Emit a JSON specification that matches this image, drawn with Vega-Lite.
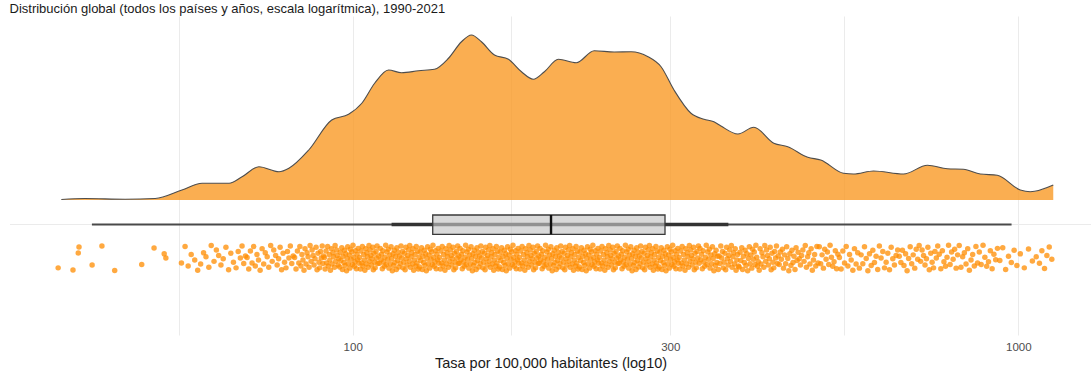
{
"$schema":"https://vega.github.io/schema/vega-lite/v6.json",
"width":1081,"height":319,
"autosize":{"type":"none"},
"padding":{"left":10,"top":16,"right":0,"bottom":39},
"background":"white",
"title":{"text":"Distribución global (todos los países y años, escala logarítmica), 1990-2021","anchor":"start","fontSize":13,"font":"Liberation Sans","fontWeight":"normal","color":"#1a1a1a","offset":-10,"baseline":"alphabetic"},
"config":{"view":{"stroke":null},"font":"Liberation Sans"},
"datasets":{
"dens":[{"r":36.5,"d":0.004},{"r":39.6,"d":0.012},{"r":45.5,"d":0.006},{"r":50.5,"d":0.012},{"r":55.4,"d":0.08},{"r":59.4,"d":0.134},{"r":65.2,"d":0.134},{"r":68.2,"d":0.186},{"r":72.3,"d":0.266},{"r":77.5,"d":0.226},{"r":80.2,"d":0.254},{"r":85.9,"d":0.40},{"r":93.0,"d":0.64},{"r":98.6,"d":0.686},{"r":103.2,"d":0.774},{"r":107.9,"d":0.934},{"r":113.2,"d":1.04},{"r":118.4,"d":1.018},{"r":125.6,"d":1.034},{"r":132.7,"d":1.046},{"r":139.3,"d":1.134},{"r":145.7,"d":1.266},{"r":150.8,"d":1.32},{"r":156.1,"d":1.266},{"r":163.3,"d":1.16},{"r":171.4,"d":1.126},{"r":179.3,"d":1.026},{"r":186.8,"d":0.966},{"r":194.1,"d":1.026},{"r":203.7,"d":1.126},{"r":216.7,"d":1.098},{"r":230.6,"d":1.194},{"r":247.1,"d":1.184},{"r":262.0,"d":1.186},{"r":277.8,"d":1.146},{"r":290.6,"d":1.066},{"r":303.9,"d":0.88},{"r":322.3,"d":0.694},{"r":337.1,"d":0.646},{"r":348.9,"d":0.626},{"r":357.5,"d":0.592},{"r":379.1,"d":0.528},{"r":400.6,"d":0.582},{"r":429.2,"d":0.454},{"r":450.5,"d":0.426},{"r":482.8,"d":0.342},{"r":504.9,"d":0.32},{"r":546.4,"d":0.214},{"r":565.6,"d":0.208},{"r":606.1,"d":0.232},{"r":672.3,"d":0.208},{"r":730.3,"d":0.278},{"r":782.5,"d":0.25},{"r":827.1,"d":0.246},{"r":877.0,"d":0.208},{"r":930.0,"d":0.198},{"r":1006.9,"d":0.08},{"r":1042.3,"d":0.066},{"r":1128.6,"d":0.12}],
"box":[{"lo":40.57,"t1":114.4,"q1":131.9,"med":198.6,"q3":294.6,"t2":366.8,"hi":977}],
"pts":[
{"r":36.1,"j":12},{"r":38.0,"j":4},{"r":38.7,"j":69},{"r":38.8,"j":92},{"r":40.6,"j":23},{"r":42.0,"j":96},{"r":43.9,"j":2},{"r":48.2,"j":25},{"r":50.3,"j":88},{"r":52.1,"j":66},{"r":52.4,"j":50},
{"r":55.3,"j":31},{"r":56.0,"j":94},{"r":56.6,"j":19},{"r":57.2,"j":63},{"r":57.9,"j":42},{"r":58.5,"j":3},
{"r":59.1,"j":27},{"r":59.7,"j":70},{"r":60.2,"j":55},{"r":60.8,"j":14},{"r":61.3,"j":98},{"r":61.9,"j":37},{"r":62.4,"j":81},{"r":62.9,"j":60},
{"r":63.4,"j":23},{"r":63.9,"j":47},{"r":64.5,"j":91},{"r":65.1,"j":5},{"r":65.6,"j":68},{"r":66.2,"j":34},{"r":66.8,"j":12},{"r":67.3,"j":75},
{"r":67.8,"j":50},{"r":68.2,"j":96},{"r":68.6,"j":29},{"r":69.0,"j":58},{"r":69.4,"j":52},{"r":69.8,"j":8},{"r":70.2,"j":77},{"r":70.6,"j":31},{"r":71.0,"j":94},{"r":71.4,"j":19},{"r":71.8,"j":63},{"r":72.2,"j":42},
{"r":72.6,"j":3},{"r":73.1,"j":86},{"r":73.5,"j":27},{"r":73.9,"j":70},{"r":74.4,"j":55},{"r":74.8,"j":14},{"r":75.3,"j":98},{"r":75.7,"j":37},{"r":76.1,"j":81},{"r":76.6,"j":60},{"r":77.0,"j":23},{"r":77.4,"j":47},
{"r":77.8,"j":91},{"r":78.2,"j":5},{"r":78.6,"j":68},{"r":79.0,"j":34},{"r":79.4,"j":12},{"r":79.8,"j":75},{"r":80.2,"j":50},{"r":80.6,"j":96},{"r":81.0,"j":29},{"r":81.4,"j":58},{"r":81.8,"j":52},{"r":82.2,"j":8},{"r":82.6,"j":77},{"r":83.0,"j":31},
{"r":83.3,"j":94},{"r":83.6,"j":19},{"r":83.9,"j":63},{"r":84.2,"j":42},{"r":84.5,"j":3},{"r":84.8,"j":86},{"r":85.1,"j":27},{"r":85.4,"j":70},{"r":85.7,"j":55},{"r":86.0,"j":14},{"r":86.3,"j":98},{"r":86.6,"j":37},{"r":86.9,"j":81},{"r":87.2,"j":60},{"r":87.5,"j":23},{"r":87.8,"j":47},{"r":88.1,"j":91},{"r":88.4,"j":5},{"r":88.7,"j":68},{"r":89.0,"j":34},
{"r":89.2,"j":12},{"r":89.5,"j":75},{"r":89.7,"j":50},{"r":90.0,"j":96},{"r":90.2,"j":29},{"r":90.4,"j":58},{"r":90.7,"j":52},{"r":90.9,"j":8},{"r":91.2,"j":77},{"r":91.4,"j":31},{"r":91.7,"j":94},{"r":91.9,"j":19},{"r":92.2,"j":63},{"r":92.4,"j":42},{"r":92.6,"j":3},{"r":92.9,"j":86},{"r":93.1,"j":27},{"r":93.4,"j":70},{"r":93.6,"j":55},{"r":93.9,"j":14},{"r":94.1,"j":98},{"r":94.3,"j":37},{"r":94.6,"j":81},{"r":94.8,"j":60},{"r":95.1,"j":23},{"r":95.3,"j":47},
{"r":95.6,"j":15},{"r":95.8,"j":72},{"r":96.0,"j":40},{"r":96.3,"j":89},{"r":96.5,"j":6},{"r":96.7,"j":57},{"r":97.0,"j":33},{"r":97.2,"j":80},{"r":97.4,"j":21},{"r":97.6,"j":66},{"r":97.9,"j":1},{"r":98.1,"j":48},{"r":98.3,"j":93},{"r":98.5,"j":28},{"r":98.8,"j":62},{"r":99.0,"j":11},{"r":99.2,"j":84},{"r":99.4,"j":45},{"r":99.7,"j":73},{"r":99.9,"j":25},{"r":100.1,"j":99},{"r":100.4,"j":53},{"r":100.6,"j":18},{"r":100.8,"j":36},{"r":101.0,"j":78},{"r":101.3,"j":9},{"r":101.5,"j":64},{"r":101.7,"j":43},{"r":101.9,"j":87},{"r":102.2,"j":30},
{"r":102.4,"j":52},{"r":102.7,"j":8},{"r":102.9,"j":77},{"r":103.2,"j":31},{"r":103.4,"j":94},{"r":103.6,"j":19},{"r":103.9,"j":63},{"r":104.1,"j":42},{"r":104.3,"j":3},{"r":104.6,"j":86},{"r":104.8,"j":27},{"r":105.0,"j":70},{"r":105.3,"j":55},{"r":105.5,"j":14},{"r":105.8,"j":98},{"r":106.0,"j":37},{"r":106.2,"j":81},{"r":106.5,"j":60},{"r":106.7,"j":23},{"r":106.9,"j":47},{"r":107.2,"j":91},{"r":107.4,"j":5},{"r":107.6,"j":68},{"r":107.9,"j":34},{"r":108.1,"j":12},{"r":108.4,"j":75},{"r":108.6,"j":50},{"r":108.8,"j":96},{"r":109.1,"j":29},{"r":109.4,"j":58},
{"r":109.7,"j":30},{"r":110.0,"j":87},{"r":110.3,"j":43},{"r":110.5,"j":64},{"r":110.8,"j":9},{"r":111.0,"j":78},{"r":111.3,"j":36},{"r":111.6,"j":18},{"r":111.8,"j":53},{"r":112.1,"j":99},{"r":112.3,"j":25},{"r":112.6,"j":73},{"r":112.9,"j":45},{"r":113.1,"j":84},{"r":113.4,"j":11},{"r":113.7,"j":62},{"r":113.9,"j":28},{"r":114.2,"j":93},{"r":114.4,"j":48},{"r":114.7,"j":1},{"r":115.0,"j":66},{"r":115.2,"j":21},{"r":115.5,"j":80},{"r":115.7,"j":33},{"r":116.0,"j":57},{"r":116.3,"j":6},{"r":116.5,"j":89},{"r":116.8,"j":40},{"r":117.0,"j":72},{"r":117.3,"j":15},
{"r":117.6,"j":58},{"r":117.9,"j":29},{"r":118.2,"j":96},{"r":118.5,"j":50},{"r":118.8,"j":75},{"r":119.0,"j":12},{"r":119.3,"j":34},{"r":119.6,"j":68},{"r":119.9,"j":5},{"r":120.2,"j":91},{"r":120.4,"j":47},{"r":120.7,"j":23},{"r":121.0,"j":60},{"r":121.3,"j":81},{"r":121.6,"j":37},{"r":121.8,"j":98},{"r":122.1,"j":14},{"r":122.4,"j":55},{"r":122.7,"j":70},{"r":123.0,"j":27},{"r":123.2,"j":86},{"r":123.5,"j":3},{"r":123.8,"j":42},{"r":124.1,"j":63},{"r":124.4,"j":19},{"r":124.6,"j":94},{"r":124.9,"j":31},{"r":125.2,"j":77},{"r":125.5,"j":8},{"r":125.8,"j":52},
{"r":126.0,"j":15},{"r":126.3,"j":72},{"r":126.6,"j":40},{"r":126.9,"j":89},{"r":127.2,"j":6},{"r":127.5,"j":57},{"r":127.8,"j":33},{"r":128.1,"j":80},{"r":128.4,"j":21},{"r":128.7,"j":66},{"r":129.0,"j":1},{"r":129.3,"j":48},{"r":129.6,"j":93},{"r":129.9,"j":28},{"r":130.2,"j":62},{"r":130.5,"j":11},{"r":130.8,"j":84},{"r":131.1,"j":45},{"r":131.4,"j":73},{"r":131.7,"j":25},{"r":132.0,"j":99},{"r":132.3,"j":53},{"r":132.6,"j":18},{"r":132.9,"j":36},{"r":133.2,"j":78},{"r":133.5,"j":9},{"r":133.8,"j":64},{"r":134.1,"j":43},{"r":134.4,"j":87},{"r":134.7,"j":30},
{"r":135.0,"j":52},{"r":135.4,"j":8},{"r":135.7,"j":77},{"r":136.0,"j":31},{"r":136.3,"j":94},{"r":136.7,"j":19},{"r":137.0,"j":63},{"r":137.3,"j":42},{"r":137.6,"j":3},{"r":138.0,"j":86},{"r":138.3,"j":27},{"r":138.6,"j":70},{"r":138.9,"j":55},{"r":139.3,"j":14},{"r":139.6,"j":98},{"r":139.9,"j":37},{"r":140.2,"j":81},{"r":140.6,"j":60},{"r":140.9,"j":23},{"r":141.2,"j":47},{"r":141.5,"j":91},{"r":141.9,"j":5},{"r":142.2,"j":68},{"r":142.5,"j":34},{"r":142.8,"j":12},{"r":143.2,"j":75},{"r":143.5,"j":50},{"r":143.8,"j":96},{"r":144.1,"j":29},{"r":144.4,"j":58},
{"r":144.7,"j":30},{"r":145.0,"j":87},{"r":145.4,"j":43},{"r":145.7,"j":64},{"r":146.1,"j":9},{"r":146.4,"j":78},{"r":146.8,"j":36},{"r":147.1,"j":18},{"r":147.5,"j":53},{"r":147.8,"j":99},{"r":148.1,"j":25},{"r":148.5,"j":73},{"r":148.8,"j":45},{"r":149.2,"j":84},{"r":149.5,"j":11},{"r":149.9,"j":62},{"r":150.2,"j":28},{"r":150.6,"j":93},{"r":150.9,"j":48},{"r":151.3,"j":1},{"r":151.6,"j":66},{"r":151.9,"j":21},{"r":152.3,"j":80},{"r":152.6,"j":33},{"r":153.0,"j":57},{"r":153.3,"j":6},{"r":153.7,"j":89},{"r":154.0,"j":40},{"r":154.4,"j":72},{"r":154.7,"j":15},
{"r":155.1,"j":58},{"r":155.5,"j":29},{"r":155.8,"j":96},{"r":156.2,"j":50},{"r":156.6,"j":75},{"r":156.9,"j":12},{"r":157.3,"j":34},{"r":157.7,"j":68},{"r":158.1,"j":5},{"r":158.4,"j":91},{"r":158.8,"j":47},{"r":159.2,"j":23},{"r":159.5,"j":60},{"r":159.9,"j":81},{"r":160.3,"j":37},{"r":160.7,"j":98},{"r":161.0,"j":14},{"r":161.4,"j":55},{"r":161.8,"j":70},{"r":162.1,"j":27},{"r":162.5,"j":86},{"r":162.9,"j":3},{"r":163.2,"j":42},{"r":163.6,"j":63},{"r":164.0,"j":19},{"r":164.4,"j":94},{"r":164.7,"j":31},{"r":165.1,"j":77},{"r":165.5,"j":8},{"r":165.8,"j":52},
{"r":166.2,"j":15},{"r":166.6,"j":72},{"r":167.0,"j":40},{"r":167.4,"j":89},{"r":167.8,"j":6},{"r":168.2,"j":57},{"r":168.6,"j":33},{"r":169.0,"j":80},{"r":169.4,"j":21},{"r":169.8,"j":66},{"r":170.1,"j":1},{"r":170.5,"j":48},{"r":170.9,"j":93},{"r":171.3,"j":28},{"r":171.7,"j":62},{"r":172.1,"j":11},{"r":172.5,"j":84},{"r":172.9,"j":45},{"r":173.3,"j":73},{"r":173.7,"j":25},{"r":174.1,"j":99},{"r":174.5,"j":53},{"r":174.9,"j":18},{"r":175.3,"j":36},{"r":175.7,"j":78},{"r":176.1,"j":9},{"r":176.4,"j":64},{"r":176.8,"j":43},{"r":177.2,"j":87},{"r":177.6,"j":30},
{"r":178.0,"j":52},{"r":178.4,"j":8},{"r":178.8,"j":77},{"r":179.3,"j":31},{"r":179.7,"j":94},{"r":180.1,"j":19},{"r":180.6,"j":63},{"r":181.0,"j":42},{"r":181.4,"j":3},{"r":181.8,"j":86},{"r":182.3,"j":27},{"r":182.7,"j":70},{"r":183.1,"j":55},{"r":183.6,"j":14},{"r":184.0,"j":98},{"r":184.4,"j":37},{"r":184.8,"j":81},{"r":185.3,"j":60},{"r":185.7,"j":23},{"r":186.1,"j":47},{"r":186.6,"j":91},{"r":187.0,"j":5},{"r":187.4,"j":68},{"r":187.8,"j":34},{"r":188.3,"j":12},{"r":188.7,"j":75},{"r":189.1,"j":50},{"r":189.6,"j":96},{"r":190.0,"j":29},{"r":190.4,"j":58},
{"r":190.7,"j":30},{"r":191.2,"j":87},{"r":191.6,"j":43},{"r":192.1,"j":64},{"r":192.6,"j":9},{"r":193.0,"j":78},{"r":193.5,"j":36},{"r":193.9,"j":18},{"r":194.4,"j":53},{"r":194.9,"j":99},{"r":195.3,"j":25},{"r":195.8,"j":73},{"r":196.2,"j":45},{"r":196.7,"j":84},{"r":197.1,"j":11},{"r":197.6,"j":62},{"r":198.1,"j":28},{"r":198.5,"j":93},{"r":199.0,"j":48},{"r":199.4,"j":1},{"r":199.9,"j":66},{"r":200.4,"j":21},{"r":200.8,"j":80},{"r":201.3,"j":33},{"r":201.7,"j":57},{"r":202.2,"j":6},{"r":202.6,"j":89},{"r":203.1,"j":40},{"r":203.6,"j":72},{"r":204.0,"j":15},
{"r":204.4,"j":58},{"r":204.9,"j":29},{"r":205.4,"j":96},{"r":205.9,"j":50},{"r":206.4,"j":75},{"r":206.9,"j":12},{"r":207.4,"j":34},{"r":207.8,"j":68},{"r":208.3,"j":5},{"r":208.8,"j":91},{"r":209.3,"j":47},{"r":209.8,"j":23},{"r":210.3,"j":60},{"r":210.8,"j":81},{"r":211.3,"j":37},{"r":211.8,"j":98},{"r":212.2,"j":14},{"r":212.7,"j":55},{"r":213.2,"j":70},{"r":213.7,"j":27},{"r":214.2,"j":86},{"r":214.7,"j":3},{"r":215.2,"j":42},{"r":215.7,"j":63},{"r":216.2,"j":19},{"r":216.6,"j":94},{"r":217.1,"j":31},{"r":217.6,"j":77},{"r":218.1,"j":8},{"r":218.6,"j":52},
{"r":219.1,"j":15},{"r":219.6,"j":72},{"r":220.1,"j":40},{"r":220.6,"j":89},{"r":221.1,"j":6},{"r":221.7,"j":57},{"r":222.2,"j":33},{"r":222.7,"j":80},{"r":223.2,"j":21},{"r":223.7,"j":66},{"r":224.3,"j":1},{"r":224.8,"j":48},{"r":225.3,"j":93},{"r":225.8,"j":28},{"r":226.3,"j":62},{"r":226.9,"j":11},{"r":227.4,"j":84},{"r":227.9,"j":45},{"r":228.4,"j":73},{"r":228.9,"j":25},{"r":229.5,"j":99},{"r":230.0,"j":53},{"r":230.5,"j":18},{"r":231.0,"j":36},{"r":231.5,"j":78},{"r":232.1,"j":9},{"r":232.6,"j":64},{"r":233.1,"j":43},{"r":233.6,"j":87},{"r":234.1,"j":30},
{"r":234.7,"j":52},{"r":235.3,"j":8},{"r":235.8,"j":77},{"r":236.4,"j":31},{"r":236.9,"j":94},{"r":237.5,"j":19},{"r":238.1,"j":63},{"r":238.6,"j":42},{"r":239.2,"j":3},{"r":239.7,"j":86},{"r":240.3,"j":27},{"r":240.9,"j":70},{"r":241.4,"j":55},{"r":242.0,"j":14},{"r":242.5,"j":98},{"r":243.1,"j":37},{"r":243.7,"j":81},{"r":244.2,"j":60},{"r":244.8,"j":23},{"r":245.3,"j":47},{"r":245.9,"j":91},{"r":246.5,"j":5},{"r":247.0,"j":68},{"r":247.6,"j":34},{"r":248.1,"j":12},{"r":248.7,"j":75},{"r":249.3,"j":50},{"r":249.8,"j":96},{"r":250.4,"j":29},{"r":250.9,"j":58},
{"r":251.5,"j":30},{"r":252.1,"j":87},{"r":252.7,"j":43},{"r":253.3,"j":64},{"r":253.9,"j":9},{"r":254.5,"j":78},{"r":255.1,"j":36},{"r":255.7,"j":18},{"r":256.3,"j":53},{"r":256.9,"j":99},{"r":257.5,"j":25},{"r":258.1,"j":73},{"r":258.7,"j":45},{"r":259.3,"j":84},{"r":259.9,"j":11},{"r":260.5,"j":62},{"r":261.1,"j":28},{"r":261.7,"j":93},{"r":262.3,"j":48},{"r":262.9,"j":1},{"r":263.5,"j":66},{"r":264.1,"j":21},{"r":264.7,"j":80},{"r":265.3,"j":33},{"r":265.9,"j":57},{"r":266.5,"j":6},{"r":267.1,"j":89},{"r":267.7,"j":40},{"r":268.3,"j":72},{"r":268.9,"j":15},
{"r":269.5,"j":58},{"r":270.2,"j":29},{"r":270.8,"j":96},{"r":271.4,"j":50},{"r":272.1,"j":75},{"r":272.7,"j":12},{"r":273.4,"j":34},{"r":274.0,"j":68},{"r":274.6,"j":5},{"r":275.3,"j":91},{"r":275.9,"j":47},{"r":276.6,"j":23},{"r":277.2,"j":60},{"r":277.8,"j":81},{"r":278.5,"j":37},{"r":279.1,"j":98},{"r":279.8,"j":14},{"r":280.4,"j":55},{"r":281.0,"j":70},{"r":281.7,"j":27},{"r":282.3,"j":86},{"r":283.0,"j":3},{"r":283.6,"j":42},{"r":284.2,"j":63},{"r":284.9,"j":19},{"r":285.5,"j":94},{"r":286.2,"j":31},{"r":286.8,"j":77},{"r":287.4,"j":8},{"r":288.1,"j":52},
{"r":288.7,"j":15},{"r":289.4,"j":72},{"r":290.1,"j":40},{"r":290.8,"j":89},{"r":291.5,"j":6},{"r":292.2,"j":57},{"r":292.8,"j":33},{"r":293.5,"j":80},{"r":294.2,"j":21},{"r":294.9,"j":66},{"r":295.6,"j":1},{"r":296.3,"j":48},{"r":297.0,"j":93},{"r":297.6,"j":28},{"r":298.3,"j":62},{"r":299.0,"j":11},{"r":299.7,"j":84},{"r":300.4,"j":45},{"r":301.1,"j":73},{"r":301.8,"j":25},{"r":302.5,"j":99},{"r":303.1,"j":53},{"r":303.8,"j":18},{"r":304.5,"j":36},{"r":305.2,"j":78},{"r":305.9,"j":9},{"r":306.6,"j":64},{"r":307.3,"j":43},{"r":307.9,"j":87},{"r":308.6,"j":30},
{"r":309.4,"j":52},{"r":310.2,"j":8},{"r":311.0,"j":77},{"r":311.8,"j":31},{"r":312.6,"j":94},{"r":313.4,"j":19},{"r":314.1,"j":63},{"r":314.9,"j":42},{"r":315.7,"j":3},{"r":316.5,"j":86},{"r":317.3,"j":27},{"r":318.1,"j":70},{"r":318.9,"j":55},{"r":319.7,"j":14},{"r":320.5,"j":98},{"r":321.2,"j":37},{"r":322.0,"j":81},{"r":322.8,"j":60},{"r":323.6,"j":23},{"r":324.4,"j":47},{"r":325.2,"j":91},{"r":326.0,"j":5},{"r":326.8,"j":68},{"r":327.6,"j":34},{"r":328.3,"j":12},{"r":329.1,"j":75},{"r":329.9,"j":50},{"r":330.7,"j":96},
{"r":331.6,"j":30},{"r":332.5,"j":87},{"r":333.4,"j":43},{"r":334.3,"j":64},{"r":335.2,"j":9},{"r":336.1,"j":78},{"r":337.1,"j":36},{"r":338.0,"j":18},{"r":338.9,"j":53},{"r":339.8,"j":99},{"r":340.7,"j":25},{"r":341.6,"j":73},{"r":342.5,"j":45},{"r":343.4,"j":84},{"r":344.3,"j":11},{"r":345.2,"j":62},{"r":346.1,"j":28},{"r":347.1,"j":93},{"r":348.0,"j":48},{"r":348.9,"j":1},{"r":349.8,"j":66},{"r":350.7,"j":21},{"r":351.6,"j":80},{"r":352.5,"j":33},{"r":353.4,"j":57},{"r":354.3,"j":6},
{"r":355.3,"j":58},{"r":356.3,"j":29},{"r":357.3,"j":96},{"r":358.4,"j":50},{"r":359.4,"j":75},{"r":360.4,"j":12},{"r":361.4,"j":34},{"r":362.4,"j":68},{"r":363.4,"j":5},{"r":364.5,"j":91},{"r":365.5,"j":47},{"r":366.5,"j":23},{"r":367.5,"j":60},{"r":368.5,"j":81},{"r":369.5,"j":37},{"r":370.6,"j":98},{"r":371.6,"j":14},{"r":372.6,"j":55},{"r":373.6,"j":70},{"r":374.6,"j":27},{"r":375.6,"j":86},{"r":376.7,"j":3},{"r":377.7,"j":42},{"r":378.7,"j":63},{"r":379.7,"j":19},
{"r":380.8,"j":15},{"r":381.9,"j":72},{"r":383.0,"j":40},{"r":384.2,"j":89},{"r":385.3,"j":6},{"r":386.4,"j":57},{"r":387.6,"j":33},{"r":388.7,"j":80},{"r":389.8,"j":21},{"r":391.0,"j":66},{"r":392.1,"j":1},{"r":393.2,"j":48},{"r":394.4,"j":93},{"r":395.5,"j":28},{"r":396.6,"j":62},{"r":397.8,"j":11},{"r":398.9,"j":84},{"r":400.0,"j":45},{"r":401.2,"j":73},{"r":402.3,"j":25},{"r":403.4,"j":99},{"r":404.6,"j":53},{"r":405.7,"j":18},{"r":406.8,"j":36},
{"r":408.1,"j":3},{"r":409.4,"j":86},{"r":410.7,"j":27},{"r":412.0,"j":70},{"r":413.4,"j":55},{"r":414.7,"j":14},{"r":416.0,"j":98},{"r":417.3,"j":37},{"r":418.6,"j":81},{"r":420.0,"j":60},{"r":421.3,"j":23},{"r":422.6,"j":47},{"r":423.9,"j":91},{"r":425.3,"j":5},{"r":426.6,"j":68},{"r":427.9,"j":34},{"r":429.2,"j":12},{"r":430.5,"j":75},{"r":431.9,"j":50},{"r":433.2,"j":96},{"r":434.5,"j":29},{"r":435.8,"j":58},
{"r":437.3,"j":25},{"r":439.0,"j":73},{"r":440.6,"j":45},{"r":442.2,"j":84},{"r":443.9,"j":11},{"r":445.5,"j":62},{"r":447.2,"j":28},{"r":448.8,"j":93},{"r":450.5,"j":48},{"r":452.1,"j":1},{"r":453.7,"j":66},{"r":455.4,"j":21},{"r":457.0,"j":80},{"r":458.7,"j":33},{"r":460.3,"j":57},{"r":461.9,"j":6},{"r":463.6,"j":89},{"r":465.2,"j":40},{"r":466.9,"j":72},
{"r":468.7,"j":47},{"r":470.7,"j":23},{"r":472.6,"j":60},{"r":474.6,"j":81},{"r":476.6,"j":37},{"r":478.6,"j":98},{"r":480.5,"j":14},{"r":482.5,"j":55},{"r":484.5,"j":70},{"r":486.4,"j":27},{"r":488.4,"j":86},{"r":490.4,"j":3},{"r":492.3,"j":42},{"r":494.3,"j":63},{"r":496.3,"j":19},{"r":498.2,"j":94},{"r":500.2,"j":31},
{"r":502.4,"j":93},{"r":504.8,"j":28},{"r":507.2,"j":62},{"r":509.6,"j":11},{"r":511.9,"j":84},{"r":514.3,"j":45},{"r":516.7,"j":73},{"r":519.1,"j":25},{"r":521.5,"j":99},{"r":523.9,"j":53},{"r":526.3,"j":18},{"r":528.7,"j":36},{"r":531.0,"j":78},{"r":533.4,"j":9},{"r":535.8,"j":64},
{"r":538.6,"j":52},{"r":541.8,"j":8},{"r":545.0,"j":77},{"r":548.2,"j":31},{"r":551.4,"j":94},{"r":554.6,"j":19},{"r":557.8,"j":63},{"r":561.0,"j":42},{"r":564.2,"j":3},{"r":567.4,"j":86},{"r":570.6,"j":27},{"r":573.8,"j":70},
{"r":577.1,"j":11},{"r":580.6,"j":62},{"r":584.0,"j":28},{"r":587.4,"j":93},{"r":590.9,"j":48},{"r":594.3,"j":1},{"r":597.7,"j":66},{"r":601.2,"j":21},{"r":604.6,"j":80},{"r":608.0,"j":33},{"r":611.5,"j":57},{"r":614.9,"j":6},
{"r":618.4,"j":96},{"r":622.1,"j":50},{"r":625.8,"j":75},{"r":629.5,"j":12},{"r":633.1,"j":34},{"r":636.8,"j":68},{"r":640.5,"j":5},{"r":644.2,"j":91},{"r":647.8,"j":47},{"r":651.5,"j":23},{"r":655.2,"j":60},{"r":658.9,"j":81},
{"r":662.5,"j":57},{"r":666.2,"j":33},{"r":669.8,"j":80},{"r":673.4,"j":21},{"r":677.1,"j":66},{"r":680.7,"j":1},{"r":684.3,"j":48},{"r":688.0,"j":93},{"r":691.6,"j":28},{"r":695.2,"j":62},{"r":698.9,"j":11},{"r":702.5,"j":84},{"r":706.1,"j":45},
{"r":709.7,"j":98},{"r":713.3,"j":37},{"r":716.9,"j":81},{"r":720.6,"j":60},{"r":724.2,"j":23},{"r":727.8,"j":47},{"r":731.4,"j":91},{"r":735.0,"j":5},{"r":738.7,"j":68},{"r":742.3,"j":34},{"r":745.9,"j":12},{"r":749.5,"j":75},{"r":753.1,"j":50},{"r":756.8,"j":96},
{"r":760.7,"j":64},{"r":764.9,"j":9},{"r":769.0,"j":78},{"r":773.2,"j":36},{"r":777.4,"j":18},{"r":781.5,"j":53},{"r":785.7,"j":99},{"r":789.9,"j":25},{"r":794.0,"j":73},{"r":798.2,"j":45},{"r":802.4,"j":84},{"r":806.5,"j":11},{"r":810.7,"j":62},
{"r":815.2,"j":98},{"r":820.1,"j":14},{"r":824.9,"j":55},{"r":829.8,"j":70},{"r":834.6,"j":27},{"r":839.5,"j":86},{"r":844.3,"j":3},{"r":849.2,"j":42},{"r":854.0,"j":63},{"r":858.9,"j":19},{"r":863.7,"j":94},{"r":868.6,"j":31},
{"r":873.8,"j":73},{"r":879.5,"j":25},{"r":885.2,"j":99},{"r":890.8,"j":53},{"r":896.5,"j":18},{"r":902.1,"j":36},{"r":907.8,"j":78},{"r":913.5,"j":9},{"r":919.1,"j":64},{"r":924.8,"j":43},{"r":930.5,"j":87},
{"r":938.1,"j":40},{"r":947.6,"j":89},{"r":957.2,"j":6},{"r":966.7,"j":57},{"r":976.2,"j":33},{"r":985.7,"j":80},{"r":995.2,"j":21},
{"r":1007,"j":66},{"r":1021,"j":12},{"r":1036,"j":85},{"r":1050,"j":38},{"r":1064,"j":55},
{"r":1076,"j":30},{"r":1085,"j":78},{"r":1095,"j":10},{"r":1104,"j":60},{"r":1113,"j":92},{"r":1123,"j":45}
]},
"layer":[
 {"layer":[
  {"data":{"name":"box"},"mark":{"type":"rule","color":"#ebebeb","strokeWidth":1},
   "encoding":{"y":{"datum":-0.196,"type":"quantitative","scale":{"domain":[-1.08,1.472],"nice":false,"zero":false},"axis":null}}},
  {"data":{"name":"dens"},"mark":{"type":"area","interpolate":"monotone","color":"#f99a26","opacity":0.8},
   "encoding":{
    "x":{"field":"r","type":"quantitative","scale":{"type":"log","domain":[30.56,1286],"nice":false},
     "axis":{"title":"Tasa por 100,000 habitantes (log10)","values":[54.77,100,173.2,300,547.7,1000],
      "labelExpr":"datum.value == 100 ? '100' : datum.value == 300 ? '300' : datum.value == 1000 ? '1000' : ''",
      "domain":false,"ticks":false,"tickSize":0,"labelPadding":6,"labelFontSize":11.5,"labelColor":"#4d4d4d","labelFont":"Liberation Sans",
      "grid":true,"gridColor":"#ebebeb","gridWidth":1,"titleFontSize":14.5,"titleFontWeight":"normal","titleColor":"#1a1a1a","titleFont":"Liberation Sans","titlePadding":4}},
    "y":{"field":"d","type":"quantitative","scale":{"domain":[-1.08,1.472],"nice":false,"zero":false},"axis":null},
    "y2":{"datum":0}}},
  {"data":{"name":"dens"},"mark":{"type":"line","interpolate":"monotone","color":"#4d4d4d","strokeWidth":1.1},
   "encoding":{
    "x":{"field":"r","type":"quantitative","scale":{"type":"log","domain":[30.56,1286],"nice":false}},
    "y":{"field":"d","type":"quantitative","scale":{"domain":[-1.08,1.472],"nice":false,"zero":false},"axis":null}}},
  {"data":{"name":"box"},"mark":{"type":"rule","color":"#4a4a4a","strokeWidth":1.8},
   "encoding":{"x":{"field":"lo","type":"quantitative","scale":{"type":"log","domain":[30.56,1286],"nice":false}},"x2":{"field":"hi"},
    "y":{"datum":-0.196,"type":"quantitative","scale":{"domain":[-1.08,1.472],"nice":false,"zero":false},"axis":null}}},
  {"data":{"name":"box"},"mark":{"type":"rule","color":"#333333","strokeWidth":3.6},
   "encoding":{"x":{"field":"t1","type":"quantitative","scale":{"type":"log","domain":[30.56,1286],"nice":false}},"x2":{"field":"t2"},
    "y":{"datum":-0.196,"type":"quantitative","scale":{"domain":[-1.08,1.472],"nice":false,"zero":false},"axis":null}}},
  {"data":{"name":"box"},"mark":{"type":"rect","fill":"#c4c4c4","fillOpacity":0.65,"stroke":"#3a3a3a","strokeWidth":1.3},
   "encoding":{"x":{"field":"q1","type":"quantitative","scale":{"type":"log","domain":[30.56,1286],"nice":false}},"x2":{"field":"q3"},
    "y":{"datum":-0.12,"type":"quantitative","scale":{"domain":[-1.08,1.472],"nice":false,"zero":false},"axis":null},"y2":{"datum":-0.2744}}},
  {"data":{"name":"box"},"mark":{"type":"rule","color":"#111111","strokeWidth":2.4},
   "encoding":{"x":{"field":"med","type":"quantitative","scale":{"type":"log","domain":[30.56,1286],"nice":false}},
    "y":{"datum":-0.12,"type":"quantitative","scale":{"domain":[-1.08,1.472],"nice":false,"zero":false},"axis":null},"y2":{"datum":-0.2744}}}
 ]},
 {"data":{"name":"pts"},"mark":{"type":"circle","color":"#ff8c00","opacity":0.75,"size":30},
  "encoding":{
   "x":{"field":"r","type":"quantitative","scale":{"type":"log","domain":[30.56,1286],"nice":false}},
   "y":{"field":"j","type":"quantitative","scale":{"domain":[-246.2,980.8],"nice":false,"zero":false},"axis":null}}}
],
"resolve":{"scale":{"y":"independent"},"axis":{"y":"independent"}}
}
